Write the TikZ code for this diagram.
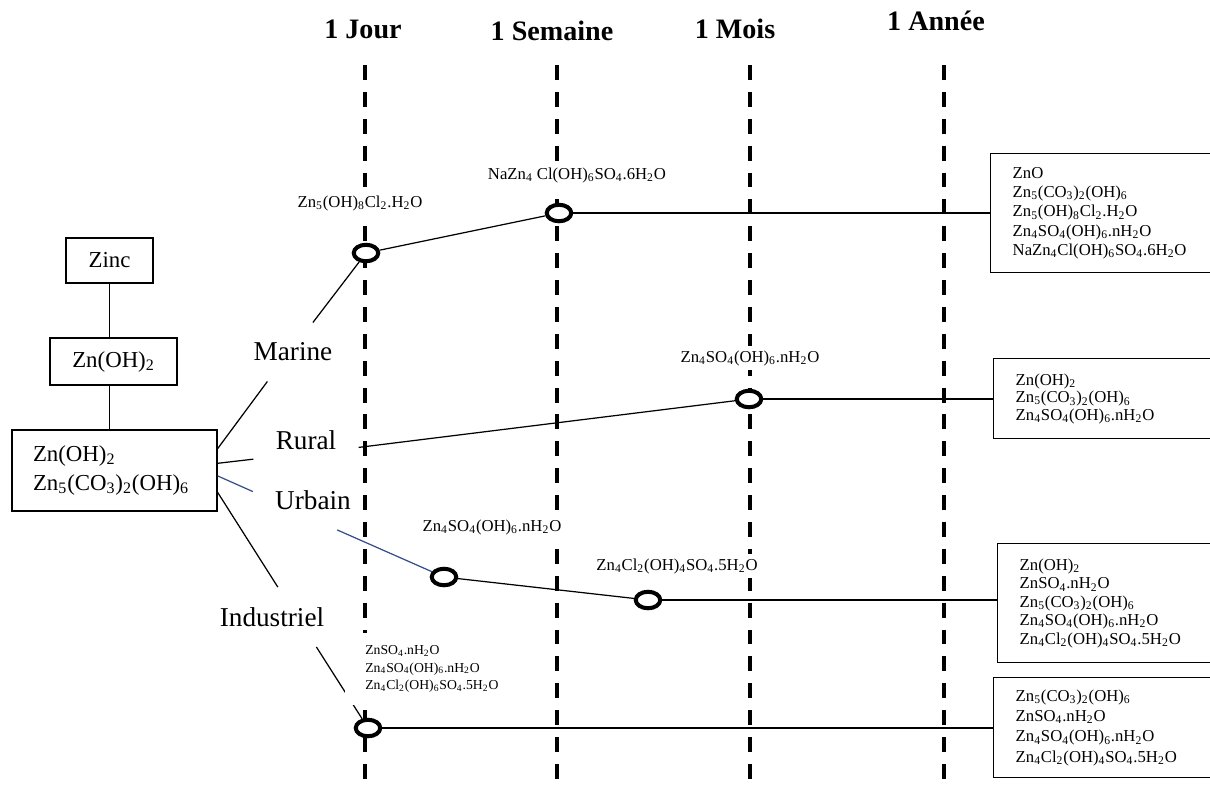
\documentclass[tikz,border=0pt]{standalone}
\usepackage{fontspec}
\setmainfont{Liberation Serif}
\usepackage{xcolor}
\usetikzlibrary{shapes.geometric}
\newcommand{\sbs}[1]{\textsubscript{#1}}
\definecolor{urbanblue}{RGB}{52,76,140}

\begin{document}
\begin{tikzpicture}[x=0.02cm, y=-0.02cm,
    timeline/.style={line width=2.2pt, dash pattern=on 8.5pt off 6.8pt},
    period/.style={anchor=base, font=\fontsize{16}{19}\selectfont\bfseries},
    srcbox/.style={draw, line width=0.8pt, inner sep=0pt, font=\fontsize{13}{16.4}\selectfont},
    milieu/.style={inner xsep=0.44cm, inner ysep=0.4cm, font=\fontsize{15.5}{18}\selectfont},
    ring/.style={ellipse, draw, line width=2.3pt, fill=white, inner sep=0pt, minimum width=0.49cm, minimum height=0.33cm},
    phase/.style={fill=white, inner sep=0.08cm, font=\fontsize{9.5}{11}\selectfont},
    resbox/.style={draw, line width=0.8pt, anchor=north west, align=left, text width=3.7cm, inner xsep=0.44cm, inner ysep=0pt, font=\fontsize{9.5}{11}\selectfont},
    link/.style={line width=0.7pt}]
      \useasboundingbox (0,0) rectangle (1210,789);

      \foreach \x/\hx/\hy/\t in {365/363/38/1 Jour, 557/552/40/1 Semaine, 750/735/38/1 Mois, 944/936/30/1 Année} {
        \node[period] (hdr-\x) at (\hx,\hy) {\t};
        \draw[timeline] (\x,65) -- (\x,789);
      }

      \node[srcbox, minimum width=1.74cm, minimum height=0.9cm] (zinc) at (109.5,260.5) {Zinc};
      \node[srcbox, minimum width=2.54cm, minimum height=0.94cm] (hydrox) at (113.5,361.5) {Zn(OH)\sbs{2}};
      \node[srcbox, minimum height=1.62cm, align=left, text width=3.26cm, inner xsep=0.42cm] (patina) at (114.5,470.5) {Zn(OH)\sbs{2}\\Zn\sbs{5}(CO\sbs{3})\sbs{2}(OH)\sbs{6}};

      \node[milieu] (marine) at (293,352) {Marine};
      \node[milieu] (rural) at (306,440) {Rural};
      \node[milieu] (urbain) at (313,500) {Urbain};
      \node[milieu] (indus) at (272,617) {Industriel};

      \node[ring] (mj) at (366,253) {};
      \node[ring] (ms) at (559,213) {};
      \node[ring] (rm) at (749,399) {};
      \node[ring] (u1) at (444,577) {};
      \node[ring] (u2) at (648,600) {};
      \node[ring] (ij) at (368,728) {};

      \node[resbox, minimum height=2.38cm] (resm) at (990,153) {ZnO\\Zn\sbs{5}(CO\sbs{3})\sbs{2}(OH)\sbs{6}\\Zn\sbs{5}(OH)\sbs{8}Cl\sbs{2}.H\sbs{2}O\\Zn\sbs{4}SO\sbs{4}(OH)\sbs{6}.nH\sbs{2}O\\NaZn\sbs{4}Cl(OH)\sbs{6}SO\sbs{4}.6H\sbs{2}O};
      \node[resbox, minimum height=1.6cm, font=\fontsize{9.5}{10}\selectfont] (resr) at (993,358) {Zn(OH)\sbs{2}\\Zn\sbs{5}(CO\sbs{3})\sbs{2}(OH)\sbs{6}\\Zn\sbs{4}SO\sbs{4}(OH)\sbs{6}.nH\sbs{2}O};
      \node[resbox, minimum height=2.38cm, font=\fontsize{9.5}{10.5}\selectfont] (resu) at (997,543) {Zn(OH)\sbs{2}\\ZnSO\sbs{4}.nH\sbs{2}O\\Zn\sbs{5}(CO\sbs{3})\sbs{2}(OH)\sbs{6}\\Zn\sbs{4}SO\sbs{4}(OH)\sbs{6}.nH\sbs{2}O\\Zn\sbs{4}Cl\sbs{2}(OH)\sbs{4}SO\sbs{4}.5H\sbs{2}O};
      \node[resbox, minimum height=2cm, font=\fontsize{9.5}{11.5}\selectfont] (resi) at (993,677) {Zn\sbs{5}(CO\sbs{3})\sbs{2}(OH)\sbs{6}\\ZnSO\sbs{4}.nH\sbs{2}O\\Zn\sbs{4}SO\sbs{4}(OH)\sbs{6}.nH\sbs{2}O\\Zn\sbs{4}Cl\sbs{2}(OH)\sbs{4}SO\sbs{4}.5H\sbs{2}O};

      \draw[link] (zinc) -- (zinc |- hydrox.north);
      \draw[link] (zinc |- hydrox.south) -- (zinc |- patina.north);

      \draw[link] (patina.12) -- (marine.229);
      \draw[link] (marine.56) -- (mj);
      \draw[link] (patina.4) -- (rural.200);
      \draw[link] (rural.-8) -- (rm);
      \draw[link, urbanblue] (patina.-3) -- (urbain.172);
      \draw[link, urbanblue] (urbain.-51) -- (u1);
      \draw[link] (patina.-12) -- (indus.79);
      \draw[link] (indus.-34) -- (ij);

      \draw[link] (mj) -- (ms);
      \draw[link] (ms) -- (ms -| resm.west);
      \draw[link] (rm) -- (rm -| resr.west);
      \draw[link] (u1) -- (u2);
      \draw[link] (u2) -- (u2 -| resu.west);
      \draw[link] (ij) -- (ij -| resi.west);

      \node[phase] (pmj) at (360,203) {Zn\sbs{5}(OH)\sbs{8}Cl\sbs{2}.H\sbs{2}O};
      \node[phase] (pms) at (577,175) {NaZn\sbs{4} Cl(OH)\sbs{6}SO\sbs{4}.6H\sbs{2}O};
      \node[phase] (prm) at (750,358) {Zn\sbs{4}SO\sbs{4}(OH)\sbs{6}.nH\sbs{2}O};
      \node[phase] (pu1) at (492,527) {Zn\sbs{4}SO\sbs{4}(OH)\sbs{6}.nH\sbs{2}O};
      \node[phase] (pu2) at (677,566) {Zn\sbs{4}Cl\sbs{2}(OH)\sbs{4}SO\sbs{4}.5H\sbs{2}O};
      \node[phase, anchor=west, align=left, inner xsep=0.4cm, inner ysep=0.25cm, font=\fontsize{7.8}{9.9}\selectfont] (pij) at (345,669) {ZnSO\sbs{4}.nH\sbs{2}O\\Zn\sbs{4}SO\sbs{4}(OH)\sbs{6}.nH\sbs{2}O\\Zn\sbs{4}Cl\sbs{2}(OH)\sbs{6}SO\sbs{4}.5H\sbs{2}O};
    \end{tikzpicture}
\end{document}
